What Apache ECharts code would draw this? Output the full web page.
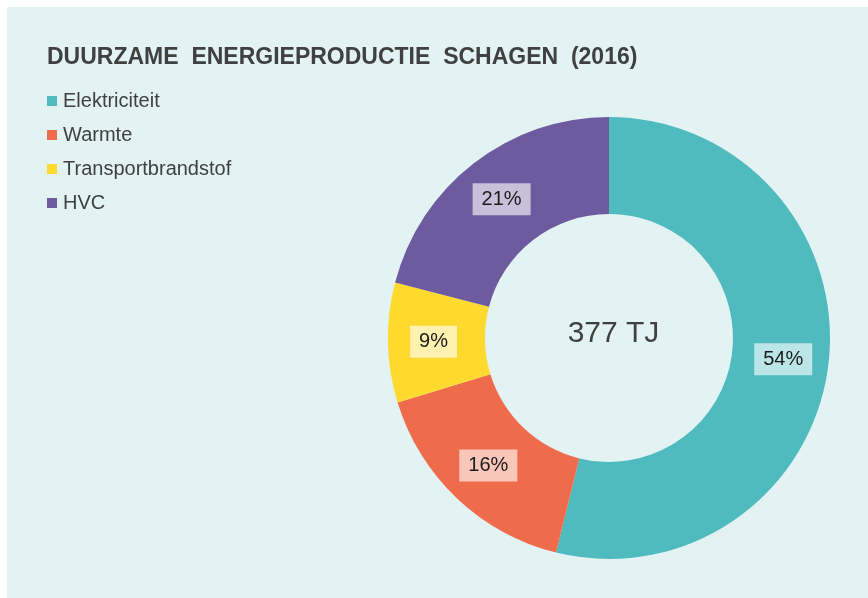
<!DOCTYPE html>
<html>
<head>
<meta charset="utf-8">
<script src="https://cdn.jsdelivr.net/npm/echarts@6/dist/echarts.min.js"></script>
<style>
  html, body { margin: 0; padding: 0; background: #ffffff; }
  #chart { width: 868px; height: 598px; }
</style>
</head>
<body>
<div id="chart"></div>
<script>
const titleText = 'DUURZAME  ENERGIEPRODUCTIE  SCHAGEN  (2016)';
const categories = ['Elektriciteit', 'Warmte', 'Transportbrandstof', 'HVC'];
const valuesTJ = [203, 62, 33, 79];
const colors = ['#4fbbbf', '#ee6b4b', '#fed92e', '#6e5a9e'];
const centerLabel = '377 TJ';

const FONT = '"Liberation Sans", Arial, sans-serif';

const chart = echarts.init(document.getElementById('chart'), null, { renderer: 'canvas' });

const total = valuesTJ.reduce((a, b) => a + b, 0);

chart.setOption({
  backgroundColor: '#ffffff',
  animation: false,
  graphic: [
    {
      type: 'rect',
      z: -10,
      shape: { x: 7, y: 7, width: 861, height: 591 },
      style: { fill: '#e3f3f3' },
      silent: true
    },
    {
      type: 'text',
      z: 10,
      x: 613.5,
      y: 334,
      style: {
        text: centerLabel,
        fill: '#404040',
        font: 'normal 30px ' + FONT,
        textAlign: 'center',
        textVerticalAlign: 'middle'
      }
    }
  ],
  title: {
    text: titleText,
    left: 42,
    top: 41,
    textStyle: {
      fontFamily: FONT,
      fontSize: 23,
      fontWeight: 'bold',
      color: '#404040',
      lineHeight: 23
    }
  },
  legend: {
    orient: 'vertical',
    left: 42,
    top: 86,
    itemWidth: 10,
    itemHeight: 10,
    itemGap: 14,
    icon: 'rect',
    data: categories,
    textStyle: {
      fontFamily: FONT,
      fontSize: 20,
      lineHeight: 20,
      color: '#404040',
      padding: [0, 0, 0, 1]
    }
  },
  series: [
    {
      type: 'pie',
      center: [609, 338],
      radius: [124, 221],
      startAngle: 90,
      clockwise: true,
      silent: true,
      data: categories.map((name, i) => ({
        name: name,
        value: valuesTJ[i],
        itemStyle: { color: colors[i] }
      })),
      label: {
        show: true,
        position: 'inside',
        formatter: function (p) {
          return Math.round(p.value / total * 100) + '%';
        },
        fontFamily: FONT,
        fontSize: 20,
        lineHeight: 20,
        color: '#1a1a1a',
        backgroundColor: 'rgba(255,255,255,0.62)',
        padding: [6, 9, 6, 9]
      },
      labelLine: { show: false },
      emphasis: { disabled: true }
    }
  ]
});
</script>
</body>
</html>
